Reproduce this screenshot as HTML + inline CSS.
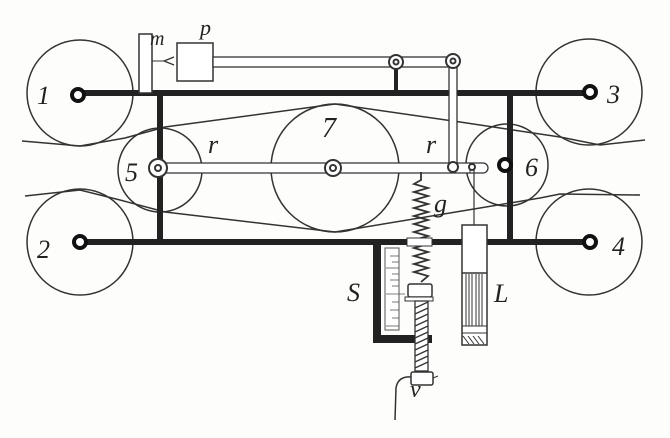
<!DOCTYPE html>
<html><head><meta charset="utf-8"><style>html,body{margin:0;padding:0;background:#fdfdfb}svg{display:block}text{font-family:"Liberation Serif",serif;font-style:italic;fill:#222}</style></head><body>
<svg width="670" height="438" viewBox="0 0 670 438" xmlns="http://www.w3.org/2000/svg">
<rect width="670" height="438" fill="#fdfdfb"/>
<g fill="none" stroke="#333" stroke-width="1.5">
<circle cx="80" cy="93" r="53"/>
<circle cx="80" cy="242" r="53"/>
<circle cx="589" cy="92" r="53"/>
<circle cx="589" cy="242" r="53"/>
<circle cx="160" cy="170" r="42"/>
<circle cx="335" cy="168" r="64"/>
<circle cx="507" cy="165" r="41"/>
<polyline points="22,141 80,146 125,138 165,127 335,104 460,122 560,137 600,145 645,140"/>
<polyline points="25,196 80,190 120,200 165,212 335,232 480,208 540,198 560,194 640,195"/>
</g>
<!-- frame -->
<g stroke="#222" stroke-width="6" fill="none">
<line x1="80" y1="93" x2="589" y2="93"/>
<line x1="80" y1="242" x2="589" y2="242"/>
<line x1="160" y1="93" x2="160" y2="242"/>
<line x1="510" y1="93" x2="510" y2="242"/>
<line x1="396" y1="62" x2="396" y2="93" stroke-width="4"/>
<polyline points="377,242 377,339 432,339" stroke-width="8"/>
</g>
<!-- hubs -->
<g fill="#fff" stroke="#111" stroke-width="4">
<circle cx="78" cy="95" r="6"/><circle cx="80" cy="242" r="6"/>
<circle cx="590" cy="92" r="6"/><circle cx="590" cy="242" r="6"/>
<circle cx="505" cy="165" r="6"/>
</g>
<!-- post m and box p -->
<rect x="139" y="34" width="13" height="59" fill="#fff" stroke="#333" stroke-width="1.5"/>
<path d="M174,57 L164,61 L174,65" fill="none" stroke="#333" stroke-width="1.3"/>
<line x1="152" y1="61" x2="164" y2="61" stroke="#333" stroke-width="1"/>
<rect x="177" y="43" width="36" height="38" fill="#fff" stroke="#333" stroke-width="1.5"/>
<!-- top rod -->
<rect x="213" y="57" width="243" height="10" fill="#fff" stroke="#333" stroke-width="1.3"/>
<!-- vertical link -->
<rect x="449" y="60" width="8" height="108" fill="#fff" stroke="#333" stroke-width="1.3"/>
<!-- rod r -->
<rect x="158" y="163" width="330" height="10" rx="5" fill="#fff" stroke="#333" stroke-width="1.3"/>
<line x1="470" y1="163" x2="470" y2="173" stroke="#333"/>
<g fill="#fff" stroke="#333" stroke-width="2">
<circle cx="396" cy="62" r="7"/><circle cx="396" cy="62" r="2.5"/>
<circle cx="453" cy="61" r="7"/><circle cx="453" cy="61" r="2.5"/>
<circle cx="158" cy="168" r="9"/><circle cx="158" cy="168" r="3"/>
<circle cx="333" cy="168" r="8"/><circle cx="333" cy="168" r="3"/>
<circle cx="453" cy="167" r="5"/>
<circle cx="472" cy="167" r="3"/>
</g>
<!-- string to L -->
<line x1="474" y1="168" x2="474" y2="275" stroke="#333" stroke-width="1.2"/>
<!-- spring -->
<polyline points="421,172 421,180 414,184 428,188 414,192 428,196 414,200 428,204 414,208 428,212 414,216 428,220 414,224 428,228 414,232 428,236 414,240 428,244 414,248 428,252 414,256 428,260 414,264 428,268 414,272 428,276 421,282" fill="none" stroke="#333" stroke-width="1.8"/>
<rect x="407" y="238" width="25" height="8" fill="#fff" stroke="#333"/>
<!-- scale -->
<rect x="385" y="248" width="14" height="82" fill="#fff" stroke="#555" stroke-width="1"/>
<g stroke="#555" stroke-width="0.8">
<line x1="390" y1="256" x2="399" y2="256"/><line x1="392" y1="262" x2="399" y2="262"/><line x1="386" y1="268" x2="399" y2="268"/><line x1="392" y1="274" x2="399" y2="274"/><line x1="390" y1="280" x2="399" y2="280"/><line x1="392" y1="286" x2="399" y2="286"/><line x1="386" y1="294" x2="405" y2="294"/><line x1="392" y1="302" x2="399" y2="302"/><line x1="390" y1="310" x2="399" y2="310"/><line x1="392" y1="318" x2="399" y2="318"/><line x1="386" y1="326" x2="399" y2="326"/>
</g>
<!-- slider block and screw -->
<rect x="408" y="284" width="24" height="13" rx="2" fill="#fff" stroke="#333" stroke-width="1.5"/>
<rect x="405" y="297" width="28" height="4" fill="#fff" stroke="#333"/>
<rect x="415" y="301" width="13" height="70" fill="#fff" stroke="#333" stroke-width="1.3"/>
<g stroke="#333" stroke-width="1.3">
<line x1="415" y1="308" x2="428" y2="302"/><line x1="415" y1="314" x2="428" y2="308"/><line x1="415" y1="320" x2="428" y2="314"/><line x1="415" y1="326" x2="428" y2="320"/><line x1="415" y1="332" x2="428" y2="326"/><line x1="415" y1="338" x2="428" y2="332"/><line x1="415" y1="344" x2="428" y2="338"/><line x1="415" y1="350" x2="428" y2="344"/><line x1="415" y1="356" x2="428" y2="350"/><line x1="415" y1="362" x2="428" y2="356"/><line x1="415" y1="368" x2="428" y2="362"/>
</g>
<rect x="411" y="372" width="22" height="13" rx="2" fill="#fff" stroke="#333" stroke-width="1.5"/>
<path d="M433,378 L438,376" stroke="#333"/>
<path d="M411,377 Q398,376 396,388 L395,420" fill="none" stroke="#333" stroke-width="1.5"/>
<!-- L weight -->
<rect x="462" y="225" width="25" height="120" fill="#fff" stroke="#333" stroke-width="1.5"/>
<line x1="462" y1="273" x2="487" y2="273" stroke="#333" stroke-width="1.5"/>
<g stroke="#333" stroke-width="1"><line x1="466" y1="274" x2="466" y2="326"/><line x1="469" y1="274" x2="469" y2="326"/><line x1="472" y1="274" x2="472" y2="326"/><line x1="476" y1="274" x2="476" y2="326"/><line x1="479" y1="274" x2="479" y2="326"/><line x1="482" y1="274" x2="482" y2="326"/><line x1="462" y1="326" x2="487" y2="326"/><line x1="462" y1="333" x2="487" y2="333"/></g>
<g stroke="#333" stroke-width="1"><line x1="463" y1="336" x2="469" y2="344"/><line x1="468" y1="336" x2="474" y2="344"/><line x1="473" y1="336" x2="479" y2="344"/><line x1="478" y1="336" x2="484" y2="344"/></g>
<!-- labels -->
<text x="37" y="104" font-size="26">1</text>
<text x="37" y="258" font-size="26">2</text>
<text x="607" y="103" font-size="26">3</text>
<text x="612" y="255" font-size="26">4</text>
<text x="125" y="181" font-size="26">5</text>
<text x="525" y="176" font-size="26">6</text>
<text x="322" y="137" font-size="28">7</text>
<text x="208" y="153" font-size="26">r</text>
<text x="426" y="153" font-size="26">r</text>
<text x="434" y="212" font-size="26">g</text>
<text x="150" y="45" font-size="20">m</text>
<text x="200" y="35" font-size="22">p</text>
<text x="347" y="301" font-size="26">S</text>
<text x="494" y="302" font-size="26">L</text>
<text x="410" y="397" font-size="24">v</text>
</svg>
</body></html>
